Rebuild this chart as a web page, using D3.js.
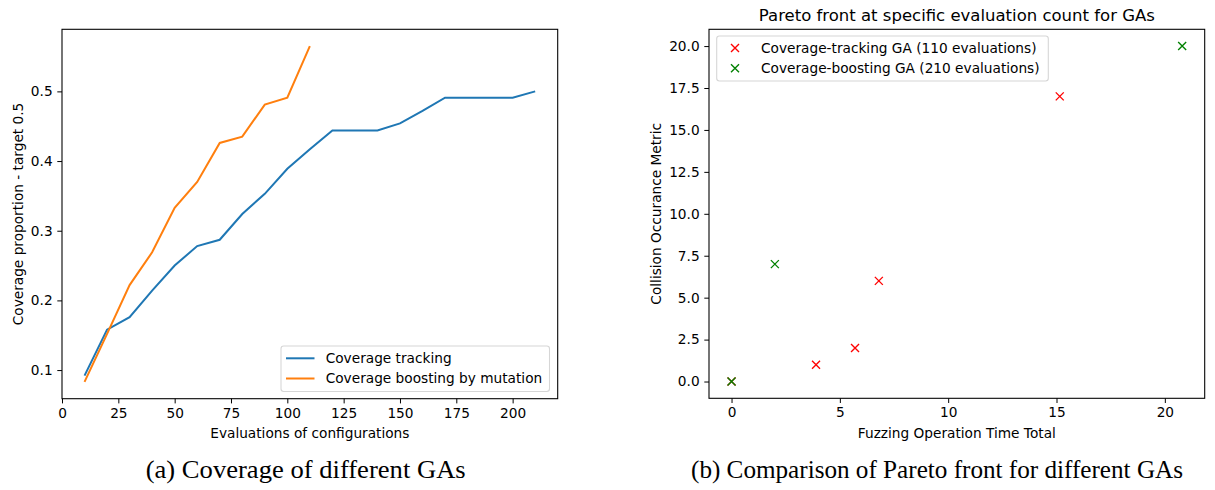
<!DOCTYPE html>
<html>
<head>
<meta charset="utf-8">
<script src="https://cdn.jsdelivr.net/npm/d3@7"></script>
<style>
  body { margin: 0; background: #fff; }
  svg text { font-family: "DejaVu Sans", sans-serif; fill: #000; }
  .tick line, .domain { stroke: #000; }
</style>
</head>
<body>
<script>
// left chart: coverage per evaluation count
var evalsTracking = [10, 20, 30, 40, 50, 60, 70, 80, 90, 100, 110, 120, 130, 140, 150, 160, 170, 180, 190, 200, 210];
var coverageTracking = [0.092, 0.158, 0.176, 0.214, 0.250, 0.278, 0.287, 0.324, 0.353, 0.389, 0.417, 0.444, 0.444, 0.444, 0.454, 0.472, 0.491, 0.491, 0.491, 0.491, 0.500];
var evalsBoosting = [10, 20, 30, 40, 50, 60, 70, 80, 90, 100, 110];
var coverageBoosting = [0.083, 0.152, 0.222, 0.269, 0.333, 0.370, 0.426, 0.435, 0.481, 0.491, 0.565];
var leftXTicks = [0, 25, 50, 75, 100, 125, 150, 175, 200];
var leftYTicks = [0.1, 0.2, 0.3, 0.4, 0.5];

// right chart: pareto fronts
var trackingTime = [0, 3.9, 5.7, 6.8, 15.15];
var trackingCollision = [0, 1, 2, 6, 17];
var boostingTime = [0, 2.0, 20.8];
var boostingCollision = [0, 7, 20];
var rightXTicks = [0, 5, 10, 15, 20];
var rightYTicks = [0, 2.5, 5, 7.5, 10, 12.5, 15, 17.5, 20];

var fs = 13.7; // ~10pt

var svg = d3.select("body").append("svg")
  .attr("width", 1215)
  .attr("height", 490);

// 5% padded domain, like matplotlib autoscale
function padded(vals) {
  var e = d3.extent(vals), m = (e[1] - e[0]) * 0.05;
  return [e[0] - m, e[1] + m];
}

function axes(g, x, y, xt, yt, xf, yf) {
  var h = y.range()[0];
  g.append("g")
    .attr("transform", "translate(0," + h + ")")
    .call(d3.axisBottom(x).tickValues(xt).tickFormat(xf).tickSize(4.7).tickPadding(4.7).tickSizeOuter(0))
    .call(a => a.selectAll("text").attr("font-size", fs).attr("font-family", "DejaVu Sans"));
  g.append("g")
    .attr("transform", "translate(" + x.range()[0] + ",0)")
    .call(d3.axisLeft(y).tickValues(yt).tickFormat(yf).tickSize(4.7).tickPadding(4.7).tickSizeOuter(0))
    .call(a => a.selectAll("text").attr("font-size", fs).attr("font-family", "DejaVu Sans"));
  g.selectAll(".domain").remove();
  g.append("rect")
    .attr("x", x.range()[0]).attr("y", y.range()[1])
    .attr("width", x.range()[1] - x.range()[0])
    .attr("height", y.range()[0] - y.range()[1])
    .attr("fill", "none").attr("stroke", "#000").attr("stroke-width", 1.08);
}

// ---------- left ----------
var L = { x0: 62, x1: 557.7, y0: 29.3, y1: 398.7 };
var xL = d3.scaleLinear().domain(padded(evalsTracking.concat(evalsBoosting))).range([L.x0, L.x1]);
var yL = d3.scaleLinear().domain(padded(coverageTracking.concat(coverageBoosting))).range([L.y1, L.y0]);
var gL = svg.append("g");

var line = d3.line().x(d => xL(d[0])).y(d => yL(d[1]));
gL.append("path")
  .attr("d", line(d3.zip(evalsTracking, coverageTracking)))
  .attr("fill", "none").attr("stroke", "#1f77b4").attr("stroke-width", 2);
gL.append("path")
  .attr("d", line(d3.zip(evalsBoosting, coverageBoosting)))
  .attr("fill", "none").attr("stroke", "#ff7f0e").attr("stroke-width", 2);

axes(gL, xL, yL, leftXTicks, leftYTicks, d3.format("d"), d3.format(".1f"));

// legend
gL.append("rect")
  .attr("x", 281).attr("y", 346).attr("width", 268.5).attr("height", 45.5)
  .attr("rx", 2.7).attr("fill", "#fff").attr("fill-opacity", 0.8)
  .attr("stroke", "#d6d6d6").attr("stroke-width", 1.08);
var legL = [["Coverage tracking", "#1f77b4"], ["Coverage boosting by mutation", "#ff7f0e"]];
gL.selectAll("line.leg")
  .data(legL)
  .enter().append("line")
    .attr("class", "leg")
    .attr("x1", 286).attr("x2", 314.5)
    .attr("y1", (d, i) => 358.3 + i * 20.2).attr("y2", (d, i) => 358.3 + i * 20.2)
    .attr("stroke", d => d[1]).attr("stroke-width", 2);
gL.selectAll("text.leg")
  .data(legL)
  .enter().append("text")
    .attr("class", "leg")
    .attr("x", 325.7).attr("y", (d, i) => 358.3 + i * 20.2)
    .attr("dy", "0.36em")
    .attr("font-size", fs)
    .text(d => d[0]);

gL.append("text")
  .attr("x", (L.x0 + L.x1) / 2).attr("y", 437.7)
  .attr("text-anchor", "middle").attr("font-size", fs)
  .text("Evaluations of configurations");
gL.append("text")
  .attr("transform", "translate(22.5," + (L.y0 + L.y1) / 2 + ") rotate(-90)")
  .attr("text-anchor", "middle").attr("font-size", fs)
  .text("Coverage proportion - target 0.5");

// ---------- right ----------
var R = { x0: 709, x1: 1204.7, y0: 29.3, y1: 398.3 };
var xR = d3.scaleLinear().domain(padded(trackingTime.concat(boostingTime))).range([R.x0, R.x1]);
var yR = d3.scaleLinear().domain(padded(trackingCollision.concat(boostingCollision))).range([R.y1, R.y0]);
var gR = svg.append("g");

var cross = "M-4,-4L4,4M-4,4L4,-4";
gR.selectAll("path.red")
  .data(d3.zip(trackingTime, trackingCollision))
  .enter().append("path")
    .attr("class", "red")
    .attr("d", cross)
    .attr("transform", d => "translate(" + xR(d[0]) + "," + yR(d[1]) + ")")
    .attr("stroke", "red").attr("stroke-width", 1.35).attr("fill", "none");
gR.selectAll("path.green")
  .data(d3.zip(boostingTime, boostingCollision))
  .enter().append("path")
    .attr("class", "green")
    .attr("d", cross)
    .attr("transform", d => "translate(" + xR(d[0]) + "," + yR(d[1]) + ")")
    .attr("stroke", "green").attr("stroke-width", 1.35).attr("fill", "none");

axes(gR, xR, yR, rightXTicks, rightYTicks, d3.format("d"), d3.format(".1f"));

gR.append("rect")
  .attr("x", 716.7).attr("y", 36).attr("width", 331.6).attr("height", 45)
  .attr("rx", 2.7).attr("fill", "#fff").attr("fill-opacity", 0.8)
  .attr("stroke", "#d6d6d6").attr("stroke-width", 1.08);
var legR = [["Coverage-tracking GA (110 evaluations)", "red"], ["Coverage-boosting GA (210 evaluations)", "green"]];
gR.selectAll("path.leg")
  .data(legR)
  .enter().append("path")
    .attr("class", "leg")
    .attr("d", cross)
    .attr("transform", (d, i) => "translate(735," + (48 + i * 20.3) + ")")
    .attr("stroke", d => d[1]).attr("stroke-width", 1.35).attr("fill", "none");
gR.selectAll("text.leg")
  .data(legR)
  .enter().append("text")
    .attr("class", "leg")
    .attr("x", 761).attr("y", (d, i) => 48 + i * 20.3)
    .attr("dy", "0.36em")
    .attr("font-size", fs)
    .text(d => d[0]);

gR.append("text")
  .attr("x", (R.x0 + R.x1) / 2).attr("y", 21)
  .attr("text-anchor", "middle").attr("font-size", 16.5)
  .text("Pareto front at specific evaluation count for GAs");
gR.append("text")
  .attr("x", (R.x0 + R.x1) / 2).attr("y", 437.7)
  .attr("text-anchor", "middle").attr("font-size", fs)
  .text("Fuzzing Operation Time Total");
gR.append("text")
  .attr("transform", "translate(661," + (R.y0 + R.y1) / 2 + ") rotate(-90)")
  .attr("text-anchor", "middle").attr("font-size", fs)
  .text("Collision Occurance Metric");

// ---------- captions ----------
svg.append("text")
  .attr("x", 305.7).attr("y", 478)
  .attr("text-anchor", "middle")
  .style("font-family", "'Liberation Serif', serif")
  .attr("font-size", 26)
  .attr("textLength", 320).attr("lengthAdjust", "spacingAndGlyphs")
  .text("(a) Coverage of different GAs");
svg.append("text")
  .attr("x", 937).attr("y", 478)
  .attr("text-anchor", "middle")
  .style("font-family", "'Liberation Serif', serif")
  .attr("font-size", 26)
  .attr("textLength", 492).attr("lengthAdjust", "spacingAndGlyphs")
  .text("(b) Comparison of Pareto front for different GAs");
</script>
</body>
</html>
